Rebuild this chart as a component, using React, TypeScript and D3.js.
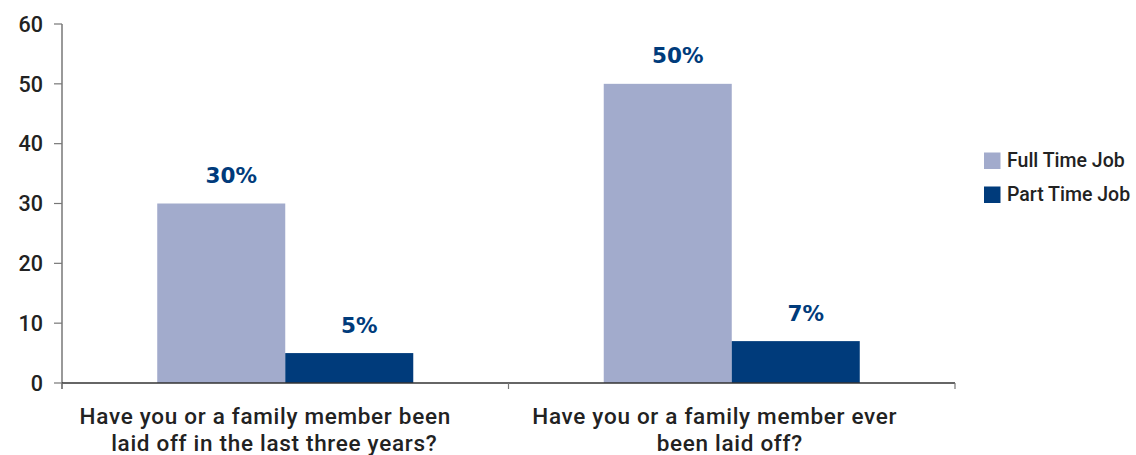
import React from "react";
import * as d3 from "d3";

const categories = [
  ["Have you or a family member been", "laid off in the last three years?"],
  ["Have you or a family member ever", "been laid off?"],
];
const seriesNames = ["Full Time Job", "Part Time Job"];
const fullTime = [30, 50];
const partTime = [5, 7];
const yTicks = [0, 10, 20, 30, 40, 50, 60];
const colors = ["#A2ABCC", "#003B7B"];

const W = 1136, H = 455;
const left = 62, right = 955, top = 24, bottom = 383;
const FONT = "Roboto, 'Liberation Sans', Arial, sans-serif";
const LABEL_FONT = "'DejaVu Sans', Verdana, sans-serif";
// horizontal nudges of each category-label line (reference lines are not centred exactly)
const lineShift = [[-20, -11], [-17, -2]];

export default function App() {
  const catKeys = categories.map((c, i) => String(i));
  const x0 = d3.scaleBand().domain(catKeys).range([left, right]).padding(0);
  const x1 = d3.scaleBand().domain(seriesNames).range([0, x0.bandwidth()]).paddingInner(0).paddingOuter(0.744);
  const y = d3.scaleLinear().domain([0, 60]).range([bottom, top]);
  const values = [fullTime, partTime];

  return (
    <div style={{ position: "absolute", left: 0, top: 0 }}>
      <svg width={W} height={H} style={{ display: "block", background: "#fff" }}>
        {/* y axis */}
        <line x1={left} x2={left} y1={top} y2={bottom + 6} stroke="#777" strokeWidth={1.5} />
        {yTicks.map((t) => (
          <g key={t}>
            <line x1={left - 8} x2={left} y1={y(t)} y2={y(t)} stroke="#777" strokeWidth={1.2} />
            <text x={43} y={y(t)} dy="0.36em" textAnchor="end" fontFamily={FONT} fontWeight={500} fontSize={21.5} fill="#222">
              {t}
            </text>
          </g>
        ))}
        {/* bars */}
        {catKeys.map((k, ci) =>
          seriesNames.map((s, si) => {
            const v = values[si][ci];
            const bx = (x0(k) as number) + (x1(s) as number);
            return (
              <g key={k + s}>
                <rect x={bx} y={y(v)} width={x1.bandwidth()} height={bottom - y(v)} fill={colors[si]} />
                <text x={bx + x1.bandwidth() / 2 + 10} y={y(v) - 20.5} textAnchor="middle" fontFamily={LABEL_FONT} fontWeight="bold" fontSize={21.5} fill={colors[1]}>
                  {v}%
                </text>
              </g>
            );
          })
        )}
        {/* x axis */}
        <line x1={left} x2={right} y1={bottom} y2={bottom} stroke="#333" strokeWidth={1.5} />
        {[...catKeys.map((k) => x0(k) as number), right].map((t, i) => (
          <line key={i} x1={t} x2={t} y1={bottom} y2={bottom + 6} stroke="#777" strokeWidth={1.2} />
        ))}
        {categories.map((lines, ci) => (
          <text key={ci} textAnchor="middle" fontFamily={FONT} fontWeight={500} fontSize={22.5} letterSpacing={0.7} fill="#222">
            {lines.map((l, li) => (
              <tspan key={li} x={(x0(String(ci)) as number) + x0.bandwidth() / 2 + lineShift[ci][li]} y={424 + li * 26.5}>
                {l}
              </tspan>
            ))}
          </text>
        ))}
        {/* legend */}
        {seriesNames.map((s, i) => (
          <g key={s} transform={`translate(984, ${152.5 + i * 34})`}>
            <rect width={16.5} height={16.5} fill={colors[i]} />
            <text x={23} y={14.5} fontFamily={FONT} fontWeight={500} fontSize={19.5} fill="#222">
              {s}
            </text>
          </g>
        ))}
      </svg>
    </div>
  );
}
